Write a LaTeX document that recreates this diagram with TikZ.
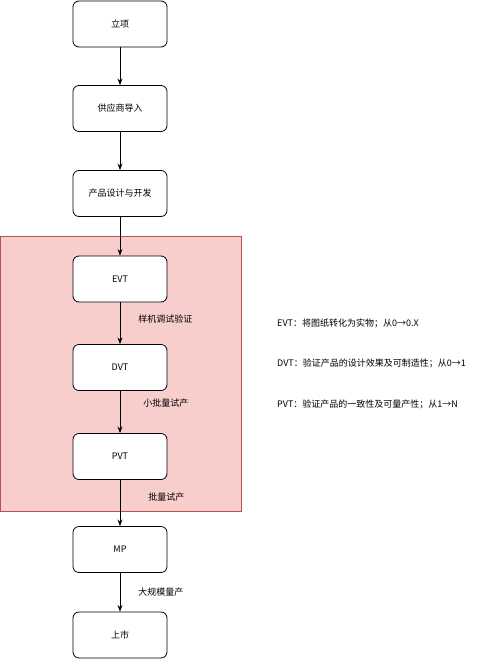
\documentclass[tikz,border=0pt]{standalone}
\usepackage{fontspec}
\newfontfamily\cjk{Noto Sans CJK SC}
\usetikzlibrary{arrows.meta}

\definecolor{stagefill}{HTML}{F8CECC}
\definecolor{stageline}{HTML}{B85450}

\begin{document}
\begin{tikzpicture}[x=1pt, y=-1pt, >=Stealth,
    every node/.style={font=\cjk\fontsize{9}{11}\selectfont},
    phase/.style={
        rectangle,
        draw,
        rounded corners=6pt,
        fill=white,
        minimum width=94pt,
        minimum height=46pt,
        line width=0.8pt
    },
    steplabel/.style={anchor=west, inner sep=0pt},
    note/.style={anchor=west, inner sep=0pt}]

    \useasboundingbox (0,0) rectangle (500,659);

    % Validation stage background
    \node[draw=stageline, fill=stagefill, line width=0.6pt, minimum width=240pt,
          minimum height=275pt, inner sep=0pt, anchor=north west] (stage) at (0.5,236) {};

    % Phases
    \node[phase] (lixiang) at (120,24) {立项};
    \node[phase] (gongying) at (120,108.5) {供应商导入};
    \node[phase] (sheji) at (120,193.5) {产品设计与开发};
    \node[phase] (evt) at (120,279) {EVT};
    \node[phase] (dvt) at (120,367.5) {DVT};
    \node[phase] (pvt) at (120,456.5) {PVT};
    \node[phase] (mp) at (120,549.5) {MP};
    \node[phase] (shangshi) at (120,635) {上市};

    % Transitions
    \path[->, line width=0.8pt]
        (lixiang) edge (gongying)
        (gongying) edge (sheji)
        (sheji) edge (evt)
        (evt) edge node[steplabel, pos=0.4, xshift=18pt] {样机调试验证} (dvt)
        (dvt) edge node[steplabel, pos=0.29, xshift=23pt] {小批量试产} (pvt)
        (pvt) edge node[steplabel, pos=0.37, xshift=28pt] {批量试产} (mp)
        (mp) edge node[steplabel, pos=0.49, xshift=18pt] {大规模量产} (shangshi);

    % Notes
    \node[note] (evtnote) at (277,323) {EVT：将图纸转化为实物；从0→0.X};
    \node[note] (dvtnote) at (277,363) {DVT：验证产品的设计效果及可制造性；从0→1};
    \node[note] (pvtnote) at (277,404) {PVT：验证产品的一致性及可量产性；从1→N};
\end{tikzpicture}
\end{document}
